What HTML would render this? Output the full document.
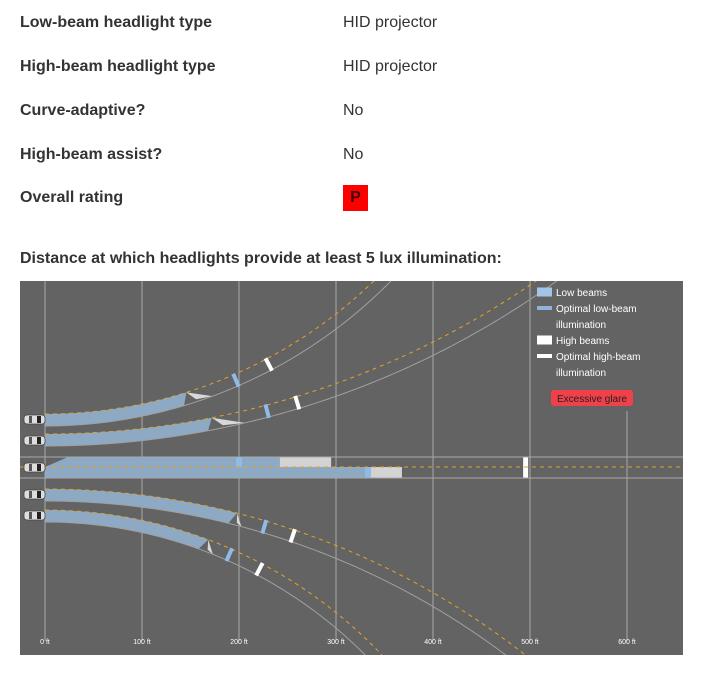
<!DOCTYPE html>
<html><head><meta charset="utf-8"><style>
html,body{margin:0;width:704px;height:684px;overflow:hidden}
body{background:#fff;font-family:"Liberation Sans",Arial,sans-serif;color:#333;position:relative}
.l{position:absolute;left:20px;font-weight:bold;font-size:16px;line-height:18px}
.v{position:absolute;left:343px;font-size:16px;line-height:18px}
#rating{position:absolute;left:343px;top:185px;width:25px;height:26px;background:#f00;color:#400;font-weight:bold;font-size:16px;text-align:center;line-height:26px}
#chart{position:absolute;left:20px;top:281px;display:block;overflow:hidden}
</style></head><body>
<div class="l" style="top:14px">Low-beam headlight type</div>
<div class="v" style="top:14px">HID projector</div>
<div class="l" style="top:58px">High-beam headlight type</div>
<div class="v" style="top:58px">HID projector</div>
<div class="l" style="top:102px">Curve-adaptive?</div>
<div class="v" style="top:102px">No</div>
<div class="l" style="top:146px">High-beam assist?</div>
<div class="v" style="top:146px">No</div>
<div class="l" style="top:189px">Overall rating</div>
<div id="rating">P</div>
<div class="l" style="top:250px">Distance at which headlights provide at least 5 lux illumination:</div>
<svg id="chart" width="663" height="374" style="font-family:'Liberation Sans',Arial,sans-serif"></svg>
<script>
// data (feet)
const tickFt=[0,100,200,300,400,500,600];
const tickLabels=["0 ft","100 ft","200 ft","300 ft","400 ft","500 ft","600 ft"];
const curveNames=["sharp-left","gentle-left","gentle-right","sharp-right"];
const curveLowFt=[148,173,200,172];
const curveGlareFt=[172,205,208,182];
const curveOptLowFt=[200,230,231,198];
const curveOptHighFt=[237,262,262,233];
const straightLowFt=[242,335];
const straightGlareFt=[295,368];
const straightOptLowFt=[200,333];
const straightOptHighFt=495;

const NS="http://www.w3.org/2000/svg";
const svg=document.getElementById('chart');
const X0=25,PX=0.97;
const xs=ft=>X0+ft*PX;
function mk(t,a,p){const e=document.createElementNS(NS,t);for(const k in a)e.setAttribute(k,a[k]);(p||svg).appendChild(e);return e;}
mk('rect',{x:0,y:0,width:663,height:374,fill:'#636363'});
tickFt.forEach((f,i)=>{
 const g=mk('line',{x1:xs(f),x2:xs(f),y1:i==6?130:0,y2:360,stroke:'#a8a8a8','stroke-width':1});
 
 
 const t=mk('text',{x:xs(f),y:363,'font-size':7,fill:'#fff','text-anchor':'middle'});
 t.textContent=tickLabels[i];
 
 
});
const cY=[133,153,208,229], cR=[473,864,778,464], cDir=[-1,-1,1,1], W=12;
function pt(i,s,off){
 const d=cDir[i],R=cR[i];
 const cy=cY[i]+d*R;
 const rr=(d<0)?R+off:R-off;
 const a=s/R;
 return [X0+rr*Math.sin(a), cy-d*rr*Math.cos(a)];
}
function poly(p,fill,name){
 const e=mk('polygon',{points:p.map(q=>q.join(',')).join(' '),fill:fill});
 
 
}
function band(i,s0,s1,fill,name){
 let p=[];const n=30;
 for(let k=0;k<=n;k++)p.push(pt(i,s0+(s1-s0)*k/n,0));
 p.push(pt(i,s1-6,W));
 for(let k=n;k>=0;k--)p.push(pt(i,s0+(s1-6-s0)*k/n,W));
 poly(p,fill,name);
}
function arcLine(i,off,attrs,name){
 let p=[];
 for(let k=0;k<=200;k++){const q=pt(i,k*4,off);p.push(q);if(q[1]<0||q[1]>374||q[0]>663)break;}
 const e=mk('polyline',Object.assign({points:p.map(q=>q.join(',')).join(' '),fill:'none'},attrs));
 
 
}
function mark(i,s,col,name){
 const a=pt(i,s,-1),b=pt(i,s,W+1);
 const e=mk('line',{x1:a[0],y1:a[1],x2:b[0],y2:b[1],stroke:col,'stroke-width':4});
 
 
}
for(let i=0;i<4;i++){
 const sL=curveLowFt[i]*PX,sG=curveGlareFt[i]*PX;
 band(i,0,sL,'#8ea9c3','low-beam-'+curveNames[i]);
 poly([pt(i,sL,0),pt(i,sG,W),pt(i,sL+(sG-sL)*0.3,W-2.5)],'#d8d8d8','glare-'+curveNames[i]);
 arcLine(i,W,{stroke:'#a0a0a0','stroke-width':1},'road-edge-'+curveNames[i]);
 arcLine(i,0,{stroke:'#e5a22a','stroke-width':1,'stroke-dasharray':'4,4'},'center-line-'+curveNames[i]);
 mark(i,curveOptLowFt[i]*PX,'#8fbbe6','optimal-low-'+curveNames[i]);
 mark(i,curveOptHighFt[i]*PX,'#ffffff','optimal-high-'+curveNames[i]);
}
const yT=176,yM=186,yB=197;
let e;
e=mk('polygon',{points:`${X0},${yM} ${X0+23},${yT} ${xs(straightLowFt[0])},${yT} ${xs(straightLowFt[0])},${yM}`,fill:'#8ea9c3'});


e=mk('rect',{x:xs(straightLowFt[0]),y:yT,width:(straightGlareFt[0]-straightLowFt[0])*PX,height:yM-yT,fill:'#d3d3d3'});


e=mk('rect',{x:X0,y:yM,width:straightLowFt[1]*PX,height:yB-yM,fill:'#8ea9c3'});


e=mk('rect',{x:xs(straightLowFt[1]),y:yM,width:(straightGlareFt[1]-straightLowFt[1])*PX,height:yB-yM,fill:'#d3d3d3'});


e=mk('rect',{x:xs(straightOptLowFt[0])-3,y:yT,width:6,height:yM-yT,fill:'#8fbbe6'});


e=mk('rect',{x:xs(straightOptLowFt[1])-3,y:yM,width:6,height:yB-yM,fill:'#8fbbe6'});


e=mk('rect',{x:xs(straightOptHighFt)-2,y:yT,width:5,height:yB-yT,fill:'#fff'});


[yT,yB].forEach(y=>{e=mk('line',{x1:0,x2:663,y1:y,y2:y,stroke:'#a8a8a8'});

});
e=mk('line',{x1:0,x2:663,y1:yM,y2:yM,stroke:'#e5a22a','stroke-dasharray':'4,4'});


[138,159,186,213,234].forEach(cy=>{
 const g=mk('g',{});
 
 
 mk('rect',{x:4,y:cy-4,width:21,height:9,rx:3,fill:'#ddd',stroke:'#444','stroke-width':0.8},g);
 mk('rect',{x:9,y:cy-3,width:3,height:7,fill:'#555'},g);
 mk('rect',{x:17,y:cy-3,width:4,height:7,fill:'#222'},g);
});
const legItems=[["Low beams",'#a3c4e6',10,9],["Optimal low-beam",'#8fb3d9',15,4],["illumination",null],["High beams",'#fff',10,9],["Optimal high-beam",'#fff',15,4],["illumination",null]];
legItems.forEach((it,k)=>{
 const y=11+k*16;
 if(it[1]){e=mk('rect',{x:517,y:y-it[3]/2,width:15,height:it[3],fill:it[1]});
 
 }
 const t=mk('text',{x:536,y:y+4,'font-size':10,fill:'#fff'});t.textContent=it[0];
 
 
});
e=mk('rect',{x:531,y:109,width:82,height:16,rx:3,fill:'#f0414b'});


e=mk('text',{x:572,y:121,'font-size':10,fill:'#222','text-anchor':'middle'});e.textContent='Excessive glare';


</script>
</body></html>
